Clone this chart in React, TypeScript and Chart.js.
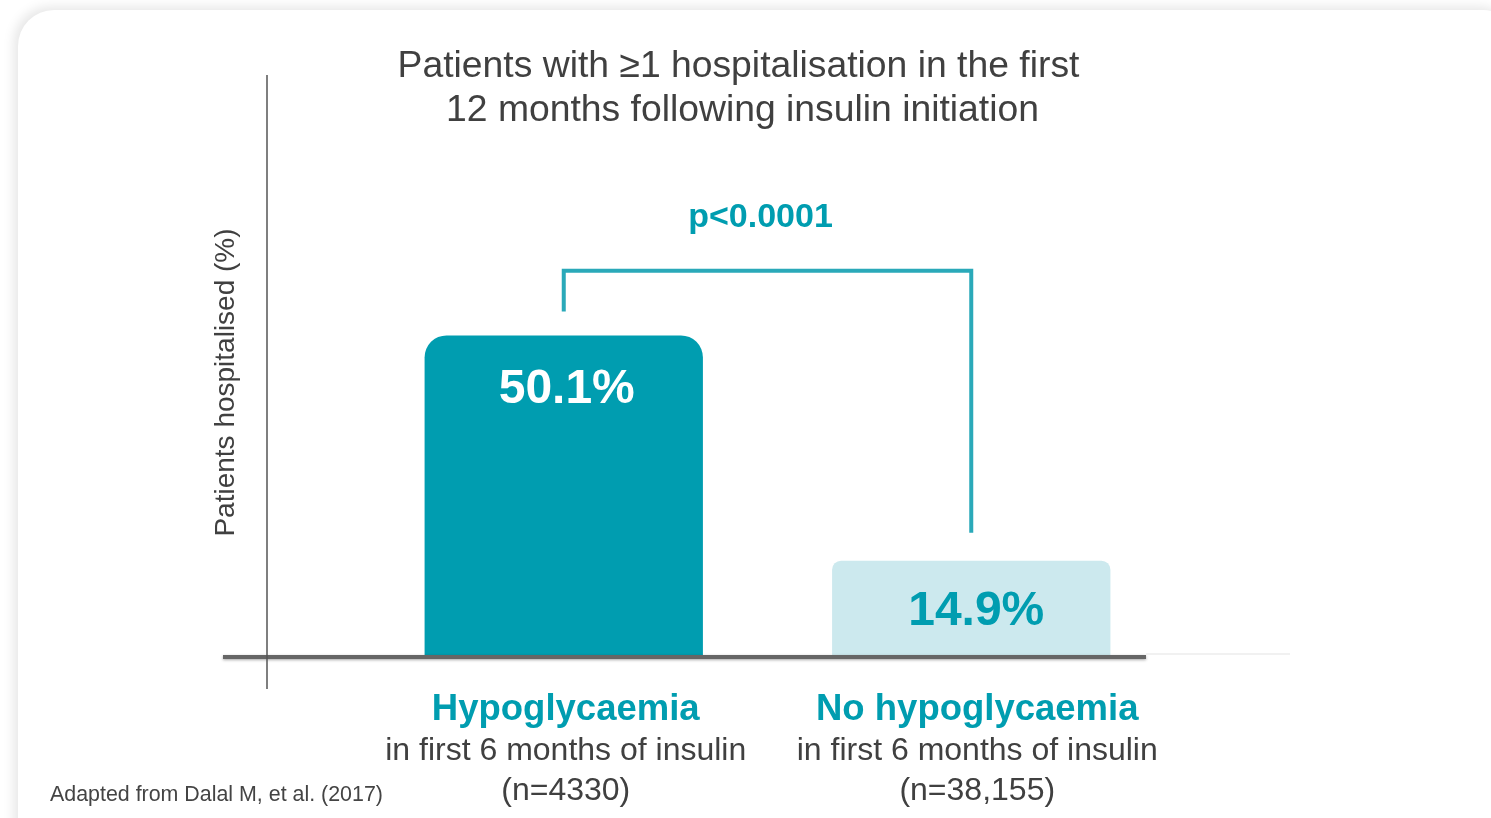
import React, { useEffect, useRef } from "react";
import { Chart, registerables } from "chart.js";

Chart.register(...registerables);

const categories = ["Hypoglycaemia", "No hypoglycaemia"];
const subLabels = ["in first 6 months of insulin", "in first 6 months of insulin"];
const nLabels = ["(n=4330)", "(n=38,155)"];
const values = [50.1, 14.9];
const valueLabels = ["50.1%", "14.9%"];
const titleLines = ["Patients with \u22651 hospitalisation in the first", "12 months following insulin initiation"];
const yAxisTitle = "Patients hospitalised (%)";
const pValueText = "p<0.0001";
const bracketLevel = 60.2;
const footnote = "Adapted from Dalal M, et al. (2017)";
const yMax = 90.8;

const TEAL = "#009db0";
const LIGHT = "#cce9ee";
const GREY = "#404040";
const FONT = "'Liberation Sans', Arial, sans-serif";

const decorPlugin = {
  id: "decor",
  afterDatasetsDraw(chart: any) {
    const { ctx, chartArea, scales } = chart;
    const x = scales.x;
    const y = scales.y;
    const meta = chart.getDatasetMeta(0);
    const axisX = chartArea.left - 93;
    ctx.save();

    // baseline (thick, with soft shadow)
    ctx.save();
    ctx.shadowColor = "rgba(0,0,0,0.35)";
    ctx.shadowBlur = 3;
    ctx.shadowOffsetY = 1;
    ctx.strokeStyle = "#666666";
    ctx.lineWidth = 4;
    ctx.beginPath();
    ctx.moveTo(axisX - 44, chartArea.bottom + 1);
    ctx.lineTo(chartArea.right - 29, chartArea.bottom + 1);
    ctx.stroke();
    ctx.restore();

    // thin continuation
    ctx.strokeStyle = "#e3e3e3";
    ctx.lineWidth = 1.2;
    ctx.beginPath();
    ctx.moveTo(chartArea.right - 29, chartArea.bottom - 2);
    ctx.lineTo(chartArea.right + 115, chartArea.bottom - 2);
    ctx.stroke();

    // y axis line
    ctx.strokeStyle = "#555555";
    ctx.lineWidth = 1.5;
    ctx.beginPath();
    ctx.moveTo(axisX, chartArea.top);
    ctx.lineTo(axisX, chartArea.bottom + 33);
    ctx.stroke();

    // y-axis title
    ctx.save();
    ctx.translate(axisX - 41, (chartArea.top + chartArea.bottom) / 2 + 17);
    ctx.rotate(-Math.PI / 2);
    ctx.fillStyle = GREY;
    ctx.font = `28px ${FONT}`;
    ctx.textAlign = "center";
    ctx.textBaseline = "middle";
    ctx.fillText(yAxisTitle, 0, 0);
    ctx.restore();

    // bracket
    const x0 = x.getPixelForValue(0);
    const x1 = x.getPixelForValue(1);
    const yTop = y.getPixelForValue(bracketLevel);
    ctx.strokeStyle = "#2aa9b9";
    ctx.lineWidth = 4;
    ctx.lineJoin = "miter";
    ctx.beginPath();
    ctx.moveTo(x0, y.getPixelForValue(values[0]) - 24);
    ctx.lineTo(x0, yTop);
    ctx.lineTo(x1, yTop);
    ctx.lineTo(x1, y.getPixelForValue(values[1]) - 28);
    ctx.stroke();

    ctx.textAlign = "center";
    ctx.textBaseline = "middle";
    ctx.fillStyle = TEAL;
    ctx.font = `bold 34px ${FONT}`;
    ctx.fillText(pValueText, (x0 + x1) / 2 - 7, yTop - 53);

    // value labels
    meta.data.forEach((bar: any, i: number) => {
      ctx.fillStyle = i === 0 ? "#ffffff" : TEAL;
      ctx.font = `bold 48px ${FONT}`;
      ctx.fillText(valueLabels[i], bar.x + (i === 0 ? 3 : 5), bar.y + (i === 0 ? 54 : 51));
    });

    // category labels
    categories.forEach((c, i) => {
      const cx = x.getPixelForValue(i) + (i === 0 ? 2 : 6);
      ctx.fillStyle = TEAL;
      ctx.font = `bold 36.5px ${FONT}`;
      ctx.fillText(c, cx, chartArea.bottom + 54);
      ctx.fillStyle = GREY;
      ctx.font = `32px ${FONT}`;
      ctx.fillText(subLabels[i], cx, chartArea.bottom + 95);
      ctx.fillText(nLabels[i], cx, chartArea.bottom + 135);
    });

    // title
    ctx.fillStyle = GREY;
    ctx.font = `37.3px ${FONT}`;
    const tx = chart.width / 2 - 6;
    ctx.fillText(titleLines[0], tx - 1, 67);
    ctx.fillText(titleLines[1], tx + 3, 111);

    // footnote
    ctx.textAlign = "left";
    ctx.font = `21.4px ${FONT}`;
    ctx.fillStyle = "#444444";
    ctx.fillText(footnote, 50, 795);

    ctx.restore();
  },
};

export default function App() {
  const ref = useRef<HTMLCanvasElement>(null);

  useEffect(() => {
    if (!ref.current) return;
    const chart = new Chart(ref.current, {
      type: "bar",
      data: {
        labels: categories,
        datasets: [
          {
            data: values,
            backgroundColor: [TEAL, LIGHT],
            borderRadius: (c: any) => {
              const r = c.dataIndex === 0 ? 22 : 9;
              return { topLeft: r, topRight: r, bottomLeft: 0, bottomRight: 0 };
            },
            borderSkipped: "start",
            categoryPercentage: 1,
            barPercentage: 0.683,
          },
        ],
      },
      options: {
        responsive: false,
        animation: false,
        layout: { padding: { left: 360, right: 316, top: 75, bottom: 162 } },
        plugins: {
          legend: { display: false },
          tooltip: { enabled: false },
          title: { display: false },
        },
        scales: {
          x: { display: false, offset: true, grid: { display: false } },
          y: { display: false, min: 0, max: yMax, grid: { display: false } },
        },
      },
      plugins: [decorPlugin],
    });
    return () => chart.destroy();
  }, []);

  return (
    <div
      style={{
        position: "fixed",
        left: 0,
        top: 0,
        width: 1491,
        height: 818,
        background: "#ffffff",
        overflow: "hidden",
      }}
    >
      <div
        style={{
          position: "absolute",
          left: 18,
          top: 10,
          width: 1501,
          height: 860,
          borderRadius: 36,
          background: "#ffffff",
          boxShadow: "-4px -3px 12px rgba(0,0,0,0.10)",
        }}
      />
      <canvas
        ref={ref}
        width={1491}
        height={818}
        style={{ position: "absolute", left: 0, top: 0, width: 1491, height: 818 }}
      />
    </div>
  );
}
